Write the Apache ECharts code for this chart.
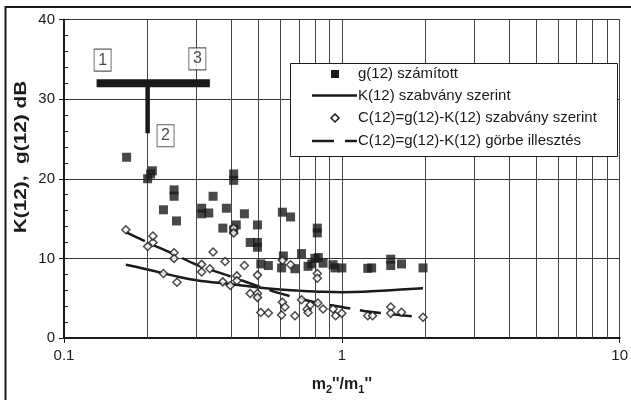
<!DOCTYPE html>
<html><head><meta charset="utf-8">
<script src="https://cdn.jsdelivr.net/npm/echarts@6/dist/echarts.min.js"></script>
<style>html,body{margin:0;padding:0;background:#fff}#c{width:631px;height:400px}</style>
</head><body><div id="c"></div>
<script>
// g(12) számított (filled squares)
const gMeasured = [
  [0.168,22.7],[0.200,20.0],[0.205,20.6],[0.208,21.0],[0.228,16.1],[0.249,18.6],[0.249,17.8],
  [0.254,14.7],[0.313,16.3],[0.313,15.6],[0.332,15.7],[0.344,17.8],[0.373,13.8],[0.384,16.3],
  [0.408,20.6],[0.408,19.8],[0.408,13.6],[0.417,14.2],[0.446,15.6],[0.468,12.0],[0.497,14.2],
  [0.497,12.0],[0.497,11.4],[0.511,9.3],[0.544,9.1],[0.611,15.8],[0.654,15.2],[0.616,10.3],
  [0.607,8.8],[0.678,8.7],[0.716,10.6],[0.756,9.0],[0.780,9.3],[0.800,10.0],[0.823,10.1],
  [0.816,13.8],[0.816,13.2],[0.856,9.4],[0.930,9.2],[0.945,8.8],[1.00,8.8],[1.24,8.75],
  [1.28,8.8],[1.50,9.9],[1.50,9.1],[1.64,9.3],[1.96,8.8]
];
// K(12) szabvány szerint (solid curve)
const kStandard = [
  [0.167,9.2],[0.2,8.6],[0.25,7.8],[0.3,7.25],[0.4,6.75],[0.5,6.35],[0.6,6.1],[0.7,5.95],
  [0.8,5.85],[1.0,5.75],[1.2,5.8],[1.5,6.0],[1.96,6.25]
];
// C(12)=g(12)-K(12) szabvány szerint (open diamonds)
const cStandard = [
  [0.167,13.6],[0.200,11.5],[0.209,12.0],[0.209,12.8],[0.228,8.1],[0.249,10.7],[0.249,10.0],
  [0.255,7.0],[0.313,9.25],[0.313,8.3],[0.335,8.7],[0.344,10.8],[0.373,7.05],[0.380,9.6],
  [0.397,6.6],[0.408,13.8],[0.408,13.2],[0.419,7.8],[0.419,7.2],[0.446,9.1],[0.468,5.6],
  [0.497,7.9],[0.497,5.6],[0.497,5.1],[0.511,3.2],[0.544,3.15],[0.611,9.75],[0.654,9.2],
  [0.607,2.9],[0.611,4.5],[0.624,3.9],[0.678,2.8],[0.716,4.8],[0.750,3.6],[0.756,3.2],
  [0.770,4.15],[0.816,8.1],[0.816,7.5],[0.820,4.4],[0.856,3.65],[0.930,3.65],[0.950,2.8],
  [1.00,3.1],[1.24,2.8],[1.29,2.8],[1.50,3.9],[1.50,3.1],[1.64,3.24],[1.96,2.6]
];
// C(12)=g(12)-K(12) görbe illesztés (dashed curve)
const cFit = [
  [0.167,13.3],[0.2,12.0],[0.25,10.5],[0.3,9.2],[0.4,7.7],[0.5,6.5],[0.6,5.6],[0.8,4.5],
  [1.0,3.9],[1.2,3.4],[1.5,3.0],[1.96,2.6]
];
// annotation "T" marker and numbered boxes
const annotBar = [[0.131,32],[0.335,32]];
const annotStem = [[0.2,32],[0.2,25.7]];
const annotBoxes = [['1',0.1377,34.9],['3',0.302,35.05],['2',0.232,25.4]];
// axes
const xMinorGrid = [0.2,0.3,0.4,0.5,0.6,0.7,0.8,0.9,2,3,4,5,6,7,8,9];
const xMin = 0.1, xMax = 10, yMin = 0, yMax = 40, yStep = 10, yMinorStep = 2;
const yTitle = 'K(12),  g(12) dB';
const legendNames = ['g(12) számított','K(12) szabvány szerint','C(12)=g(12)-K(12) szabvány szerint','C(12)=g(12)-K(12) görbe illesztés'];

const FONT = 'Liberation Sans, Arial, sans-serif';
const ink = '#1a1a1a';

// hand-drawn legend box (graphic)
const LX = 290.5, LY = 63.5, LW = 327, LH = 93;
const rowY = [74, 95.5, 118, 141];
const symX = 335, lineX0 = 312, lineX1 = 357, textX = 358;
const legendGraphic = [
  {type:'rect', z:50, silent:true, shape:{x:LX,y:LY,width:LW,height:LH}, style:{fill:'#fff',stroke:ink,lineWidth:1}},
  {type:'rect', z:51, silent:true, shape:{x:symX-4,y:rowY[0]-4,width:8,height:8}, style:{fill:ink}},
  {type:'line', z:51, silent:true, shape:{x1:lineX0,y1:rowY[1],x2:lineX1,y2:rowY[1]}, style:{stroke:ink,lineWidth:2.5}},
  {type:'polygon', z:51, silent:true, shape:{points:[[symX,rowY[2]-4],[symX+4,rowY[2]],[symX,rowY[2]+4],[symX-4,rowY[2]]]}, style:{fill:'#fff',stroke:ink,lineWidth:1.5}},
  {type:'line', z:51, silent:true, shape:{x1:lineX0,y1:rowY[3],x2:lineX1,y2:rowY[3]}, style:{stroke:ink,lineWidth:2.5,lineDash:[22,11]}}
].concat(legendNames.map((n,i)=>({type:'text', z:52, silent:true, x:textX, y:rowY[i],
  style:{text:n, fill:ink, font:'15px '+FONT, verticalAlign:'middle', align:'left'}})));

const chart = echarts.init(document.getElementById('c'), null, {renderer:'canvas'});
chart.setOption({
  animation:false,
  backgroundColor:'#fff',
  textStyle:{fontFamily:FONT},
  grid:{left:64,right:7,top:19.5,bottom:59,containLabel:false},
  xAxis:{
    type:'log', logBase:10, min:xMin, max:xMax,
    axisLine:{show:true,onZero:false,lineStyle:{color:ink,width:2}},
    axisTick:{show:true,length:5,lineStyle:{color:ink,width:1}},
    axisLabel:{fontFamily:FONT,fontSize:15,color:ink,margin:10},
    splitLine:{show:true,lineStyle:{color:'#444',width:1}},
    name:'m{s|2}\'\'/m{s|1}\'\'', nameLocation:'middle', nameGap:37,
    nameTextStyle:{fontFamily:FONT,fontSize:16,fontWeight:'bold',color:ink,
      rich:{s:{fontFamily:FONT,fontSize:11,fontWeight:'bold',color:ink,verticalAlign:'bottom',padding:[9,0,0,0]}}}
  },
  yAxis:[{
    type:'value', min:yMin, max:yMax, interval:yStep,
    axisLine:{show:true,lineStyle:{color:ink,width:2}},
    axisTick:{show:true,length:5,lineStyle:{color:ink,width:1}},
    axisLabel:{fontFamily:FONT,fontSize:15,color:ink,margin:9},
    splitLine:{show:true,lineStyle:{color:'#333',width:1}}
  },{
    type:'value', min:yMin, max:yMax, interval:yMinorStep, position:'left',
    axisLine:{show:false}, axisLabel:{show:false}, splitLine:{show:false},
    axisTick:{show:true,inside:true,length:4,lineStyle:{color:ink,width:1}}
  }],
  graphic:[{
    type:'rect', silent:true, z:100,
    shape:{x:5.5,y:7,width:700,height:500},
    style:{fill:null,stroke:ink,lineWidth:2}
  },{
    type:'text', silent:true, z:60, x:21.5, y:157, rotation:Math.PI/2, scaleX:1.3, scaleY:1,
    style:{text:yTitle, fill:ink, font:'bold 16px '+FONT, align:'center', verticalAlign:'middle'}
  }].concat(legendGraphic),
  series:[
    {name:'minorGrid', type:'line', data:[], z:1, silent:true,
      markLine:{silent:true, symbol:'none', label:{show:false}, animation:false,
        lineStyle:{color:'#444',width:1,type:'solid'},
        data:xMinorGrid.map(v=>({xAxis:v}))}},
    {name:legendNames[0], type:'scatter', data:gMeasured, symbol:'rect', symbolSize:9, z:5,
      itemStyle:{color:ink}},
    {name:legendNames[1], type:'line', data:kStandard, smooth:0.4, showSymbol:false, symbol:'none', z:4,
      lineStyle:{color:ink,width:2.5}},
    {name:legendNames[2], type:'scatter', data:cStandard, symbol:'diamond', symbolSize:8, z:6,
      itemStyle:{color:'#fff',borderColor:ink,borderWidth:1.5}},
    {name:legendNames[3], type:'line', data:cFit, smooth:0.4, showSymbol:false, symbol:'none', z:4,
      lineStyle:{color:ink,width:2.5,type:[21,10]}},
    {name:'annotBar', type:'line', data:annotBar, symbol:'none', z:7, silent:true,
      lineStyle:{color:ink,width:8,cap:'butt'}},
    {name:'annotStem', type:'line', data:annotStem, symbol:'none', z:7, silent:true,
      lineStyle:{color:ink,width:4.5,cap:'butt'}},
    {name:'annotBoxes', type:'scatter', data:annotBoxes.map(b=>({name:b[0],value:[b[1],b[2]]})),
      symbol:'rect', symbolSize:[17,22], z:8, silent:true,
      itemStyle:{color:'#fff',borderColor:'#333',borderWidth:1},
      label:{show:true,position:'inside',formatter:p=>p.name,fontFamily:FONT,fontSize:16,color:ink}}
  ]
});
</script></body></html>
